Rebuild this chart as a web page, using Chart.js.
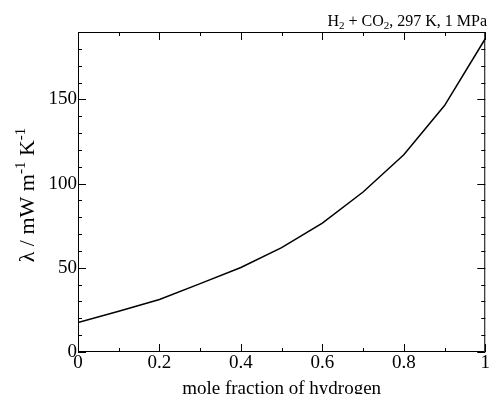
<!DOCTYPE html>
<html>
<head>
<meta charset="utf-8">
<script src="https://cdn.jsdelivr.net/npm/chart.js@4.4.1/dist/chart.umd.min.js"></script>
<style>
  html, body { margin: 0; padding: 0; background: #fff; }
  #wrap { width: 490px; height: 394px; }
</style>
</head>
<body>
<div id="wrap"><canvas id="c" width="490" height="394"></canvas></div>
<script>
// mole fraction of H2 and thermal conductivity (mW m-1 K-1)
var xFrac = [0, 0.1, 0.2, 0.3, 0.4, 0.5, 0.6, 0.7, 0.8, 0.9, 1.0];
var lambda = [17.5, 24.2, 31.2, 40.6, 50.2, 62.0, 76.5, 95.0, 117.1, 146.3, 186.0];
var xMajor = [0, 0.2, 0.4, 0.6, 0.8, 1];
var yMajor = [0, 50, 100, 150];

var FONT = "'Liberation Serif', 'Times New Roman', serif";

// draws pieces of text with sub/superscripts, starting at x (left) on baseline y
function richWidth(ctx, parts) {
  var w = 0;
  parts.forEach(function(p) {
    ctx.font = p.size + "px " + FONT;
    w += ctx.measureText(p.t).width;
  });
  return w;
}
function drawRich(ctx, parts, x, y) {
  parts.forEach(function(p) {
    ctx.font = p.size + "px " + FONT;
    ctx.fillText(p.t, x, y + (p.dy || 0));
    x += ctx.measureText(p.t).width;
  });
}

var framePlugin = {
  id: 'frame',
  afterDatasetsDraw: function(chart) {
    var ctx = chart.ctx, a = chart.chartArea;
    var xs = chart.scales.x, ys = chart.scales.y;
    ctx.save();
    ctx.strokeStyle = '#000';
    ctx.lineWidth = 1;
    ctx.beginPath();
    ctx.rect(a.left + 0.5, a.top + 0.5, a.right - a.left - 1, a.bottom - a.top - 1);
    // inward ticks, all four sides
    xs.ticks.forEach(function(t) {
      var px = Math.round(xs.getPixelForValue(t.value)) + 0.5;
      var major = Math.abs(t.value * 10 % 2) < 1e-6 || Math.abs(t.value * 10 % 2 - 2) < 1e-6;
      var len = major ? 8 : 4;
      ctx.moveTo(px, a.bottom); ctx.lineTo(px, a.bottom - len);
      ctx.moveTo(px, a.top); ctx.lineTo(px, a.top + len);
    });
    ys.ticks.forEach(function(t) {
      var py = Math.round(ys.getPixelForValue(t.value)) + 0.5;
      var len = (t.value % 50 === 0) ? 8 : 4;
      ctx.moveTo(a.left, py); ctx.lineTo(a.left + len, py);
      ctx.moveTo(a.right, py); ctx.lineTo(a.right - len, py);
    });
    ctx.stroke();

    ctx.fillStyle = '#000';
    ctx.textBaseline = 'alphabetic';
    // title top right
    var title = [
      {t: 'H', size: 16}, {t: '2', size: 11, dy: 3}, {t: ' + CO', size: 16},
      {t: '2', size: 11, dy: 3}, {t: ', 297 K, 1 MPa', size: 16}
    ];
    drawRich(ctx, title, 487 - richWidth(ctx, title), 26);

    // y title, rotated
    var yt = [
      {t: '\u03bb / mW m', size: 22}, {t: '-1', size: 15, dy: -9},
      {t: ' K', size: 22}, {t: '-1', size: 15, dy: -9}
    ];
    var w = richWidth(ctx, yt);
    ctx.save();
    ctx.translate(34, (a.top + a.bottom) / 2);
    ctx.rotate(-Math.PI / 2);
    drawRich(ctx, yt, -w / 2 - 3, 0);
    ctx.restore();

    // x title
    ctx.font = '19px ' + FONT;
    ctx.textAlign = 'center';
    ctx.fillText('mole fraction of hydrogen', (a.left + a.right) / 2, 394);
    ctx.restore();
  }
};

new Chart(document.getElementById('c'), {
  type: 'line',
  data: {
    datasets: [{
      data: xFrac.map(function(x, i) { return {x: x, y: lambda[i]}; }),
      borderColor: '#000',
      borderWidth: 1.5,
      pointRadius: 0,
      tension: 0,
      fill: false
    }]
  },
  options: {
    responsive: false,
    animation: false,
    events: [],
    layout: { autoPadding: false, padding: { top: 32, right: 1, left: 0, bottom: 0 } },
    plugins: { legend: { display: false }, tooltip: { enabled: false } },
    scales: {
      x: {
        type: 'linear', min: 0, max: 1,
        afterFit: function(s) { s.height = 42; },
        grid: { display: false, drawTicks: false },
        border: { display: false },
        ticks: {
          stepSize: 0.1, padding: 0, maxRotation: 0, autoSkip: false,
          color: '#000', font: { family: FONT, size: 19 },
          callback: function(v) {
            var k = Math.round(v * 10);
            return xMajor.indexOf(k / 10) >= 0 ? String(k / 10) : '';
          }
        }
      },
      y: {
        min: 0, max: 190,
        afterFit: function(s) { s.width = 78; },
        grid: { display: false, drawTicks: false },
        border: { display: false },
        ticks: {
          stepSize: 10, padding: 1, autoSkip: false,
          color: '#000', font: { family: FONT, size: 19 },
          callback: function(v) { return yMajor.indexOf(v) >= 0 ? String(v) : ''; }
        }
      }
    }
  },
  plugins: [framePlugin]
});
</script>
</body>
</html>
